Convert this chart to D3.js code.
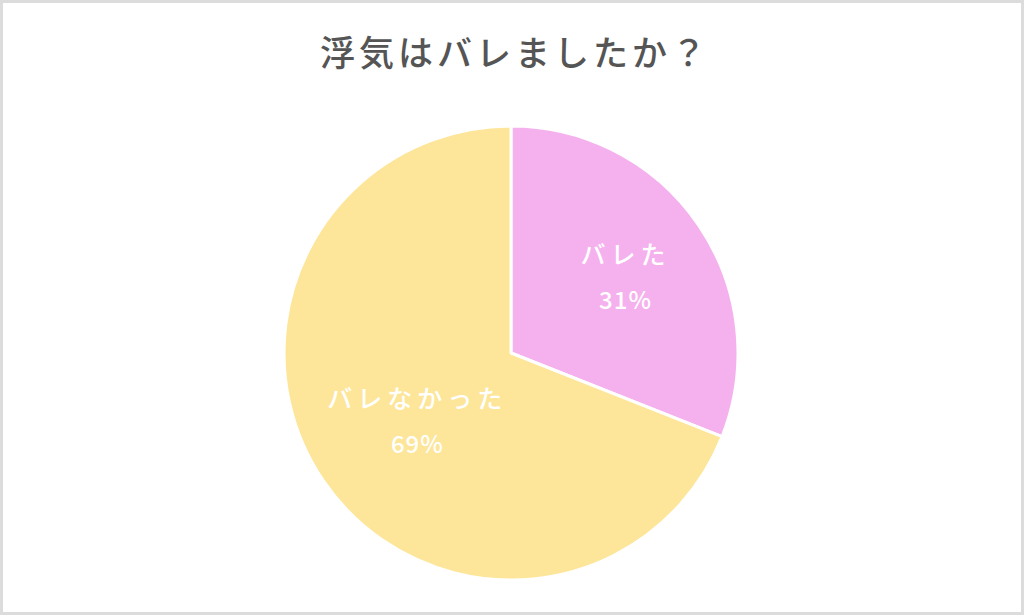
<!DOCTYPE html>
<html>
<head>
<meta charset="utf-8">
<script src="https://cdn.jsdelivr.net/npm/d3@7"></script>
<style>
  html, body { margin: 0; padding: 0; background: #fff; }
  svg { display: block; }
</style>
</head>
<body>
<div id="chart"></div>
<script>
const title = '浮気はバレましたか？'
const categories = ['バレた', 'バレなかった']
const values = [31, 69]
const colors = ['#f5b1ee', '#fde699']

const width = 1024
const height = 615
const cx = 511
const cy = 353
const radius = 227

const svg = d3.select('#chart').append('svg')
    .attr('width', width)
    .attr('height', height)

// frame
svg.append('rect')
    .attr('x', 1.5)
    .attr('y', 1.5)
    .attr('width', width - 3)
    .attr('height', height - 3)
    .attr('fill', 'white')
    .attr('stroke', '#dcdcdc')
    .attr('stroke-width', 3)

svg.append('text')
    .attr('x', width / 2 + 3)
    .attr('y', 66)
    .attr('text-anchor', 'middle')
    .attr('font-family', '"Noto Sans CJK JP", sans-serif')
    .attr('font-weight', 500)
    .attr('font-size', 35)
    .attr('letter-spacing', 4)
    .attr('fill', '#555555')
    .text(title)

const data = categories.map(function(c, i) { return { name: c, value: values[i], color: colors[i] } })

const pie = d3.pie()
    .sort(null)
    .value(function(d) { return d.value })

const arc = d3.arc()
    .innerRadius(0)
    .outerRadius(radius)

const g = svg.append('g')
    .attr('transform', 'translate(' + cx + ',' + cy + ')')

const arcs = pie(data)

g.selectAll('path')
    .data(arcs)
    .enter().append('path')
    .attr('d', arc)
    .attr('fill', function(d) { return d.data.color })
    .attr('stroke', 'white')
    .attr('stroke-width', 3)
    .attr('stroke-linejoin', 'round')

// label distance differs a little per slice in the original
const labelFactor = [0.61, 0.52]

const labels = g.selectAll('g.label')
    .data(arcs)
    .enter().append('g')
    .attr('class', 'label')
    .attr('transform', function(d, i) {
        const r = radius * labelFactor[i]
        const la = d3.arc().innerRadius(r).outerRadius(r)
        const c = la.centroid(d)
        return 'translate(' + (c[0] + (i ? 4 : 0)) + ',' + c[1] + ')'
    })

labels.append('text')
    .attr('y', -11)
    .attr('text-anchor', 'middle')
    .attr('font-family', '"Noto Sans CJK JP", sans-serif')
    .attr('font-weight', 500)
    .attr('font-size', 25)
    .attr('letter-spacing', 5)
    .attr('fill', 'white')
    .text(function(d) { return d.data.name })

labels.append('text')
    .attr('y', 34)
    .attr('text-anchor', 'middle')
    .attr('font-family', '"Noto Sans CJK JP", sans-serif')
    .attr('font-weight', 500)
    .attr('font-size', 24)
    .attr('letter-spacing', 1)
    .attr('fill', 'white')
    .text(function(d) { return d.data.value + '%' })
</script>
</body>
</html>
